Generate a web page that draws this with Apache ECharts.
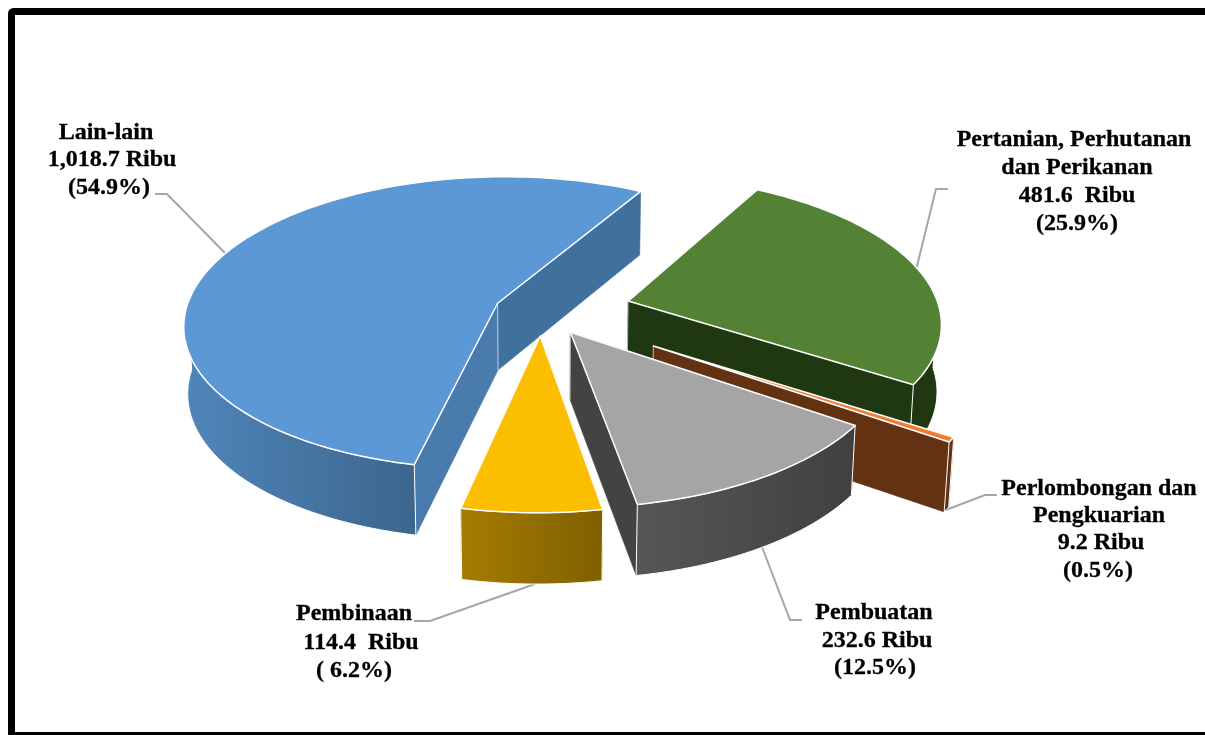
<!DOCTYPE html>
<html><head><meta charset="utf-8">
<style>html,body{margin:0;padding:0;background:#fff}#c{width:1205px;height:735px}</style>
<script src="https://cdn.jsdelivr.net/npm/echarts@6/dist/echarts.min.js"></script>
</head><body><div id="c"></div>
<script>
// Data, clockwise in pie order, also painted back to front
const categories = ['Lain-lain','Pertanian, Perhutanan dan Perikanan','Perlombongan dan Pengkuarian','Pembuatan','Pembinaan'];
const values = [1018.7, 481.6, 9.2, 232.6, 114.4];
const explode = [0.152, 0.288, 0.42, 0.17, 0.168];
const topColors = ['#5b98d5','#548235','#ed7d31','#a5a5a5','#fbbe00'];
const wallColors = ['#40709c','#203812','#633213','#434343','#7f6000'];
const entryWallColors = ['#4a7bad','#203812','#633213','#434343','#7f6000'];
const rimFrom = ['#4f86ba','#203812','#633213','#565656','#a67c00'];
const rimTo = ['#3c668c','#203812','#633213','#404040','#7f6000'];
const labelLines = [
 ['Lain-lain',106,133],['1,018.7 Ribu',112,160],['(54.9%)',109,188],
 ['Pertanian, Perhutanan',1074,140],['dan Perikanan',1077,168],['481.6  Ribu',1077,196],['(25.9%)',1077,224],
 ['Perlombongan dan',1099,489],['Pengkuarian',1099,516],['9.2 Ribu',1101,543],['(0.5%)',1098,571],
 ['Pembuatan',874,613],['232.6 Ribu',877,641],['(12.5%)',875,668],
 ['Pembinaan',354,614],['114.4  Ribu',361,643],['( 6.2%)',354,671]
];
const leaders = [
 [[155,194],[167,194],[225,253]],
 [[948,189],[936,189],[916,270]],
 [[997,495],[985,495],[943,511]],
 [[802,620],[790,620],[762,547]],
 [[414,621],[430,621],[535,584]]
];
const total = values.reduce((a,b)=>a+b,0);
const firstAngle = 29.5 - values[0]/total*360;

// Projection of the tilted pie (perspective, slight shear)
const X0=541.5,Y0=311,A=312,S=-2.5,B=145.5,K=0.135,M=0.011,D=67,K2=0.08;
function proj(u,v,z){
  const w=1-K*v+M*z;
  return [X0+(A*u+S*v)/w, Y0+B*v/w+z*D/(1-K2*v)];
}
const rad=a=>a*Math.PI/180;
function renderItem(params,api){
  const i=params.dataIndex;
  const val=api.value(0);
  let before=0; for(let j=0;j<i;j++) before+=values[j];
  const a0=firstAngle+before/total*360, a1=a0+val/total*360;
  const mid=rad((a0+a1)/2), e=explode[i];
  const cu=e*Math.sin(mid), cv=-e*Math.cos(mid);
  const rim=(a,z)=>proj(cu+Math.sin(rad(a)),cv-Math.cos(rad(a)),z);
  const apex=z=>proj(cu,cv,z);
  const arc=(s,t,z)=>{const n=Math.max(2,Math.ceil(Math.abs(t-s)/1.5));const p=[];for(let k=0;k<=n;k++)p.push(rim(s+(t-s)*k/n,z));return p;};
  const white={stroke:'#fff',lineWidth:1.5,lineJoin:'round'};
  const poly=(pts,fill,stroke)=>({type:'polygon',shape:{points:pts},silent:true,style:Object.assign({fill:fill},stroke===false?{stroke:fill,lineWidth:0.5}:white)});
  const kids=[];
  // radial walls
  kids.push(poly([apex(0),rim(a1,0),rim(a1,1),apex(1)],wallColors[i],false));
  kids.push(poly([apex(0),rim(a0,0),rim(a0,1),apex(1)],entryWallColors[i],false));
  kids.push({type:'polyline',shape:{points:[apex(0),apex(1)]},silent:true,style:{stroke:'#fff',lineWidth:0.8,opacity:.8,fill:null}});
  // front rim wall (the part of the arc that faces the viewer, 90..270 deg)
  const norm=a=>((a%360)+360)%360;
  const s0=norm(a0);
  let fs=Math.max(s0,90), fe=Math.min(s0+(a1-a0),270);
  if(s0+(a1-a0)>450){ fs=Math.max(s0,450); fe=Math.min(s0+(a1-a0),630); }
  if(fe>fs){
    const top=arc(fs,fe,0), bot=arc(fs,fe,1).reverse();
    kids.push({type:'polygon',shape:{points:top.concat(bot)},silent:true,style:{
      fill:new echarts.graphic.LinearGradient(0,0,1,0,[{offset:0,color:rimFrom[i]},{offset:1,color:rimTo[i]}]),
      stroke:'#fff',lineWidth:1}});
  }
  // top face
  const pts=[apex(0)].concat(arc(a0,a1,0));
  kids.push(poly(pts,topColors[i]));
  return {type:'group',children:kids};
}
const chart=echarts.init(document.getElementById('c'),null,{renderer:'canvas'});
const graphics=[
 {type:'rect',z:0,silent:true,shape:{x:11.5,y:11.5,width:1300,height:724,r:2},style:{fill:'#fff',stroke:'#000',lineWidth:7}}
];
leaders.forEach(p=>graphics.push({type:'polyline',z:1,silent:true,shape:{points:p},style:{stroke:'#a6a6a6',lineWidth:2,fill:null}}));
labelLines.forEach(l=>graphics.push({type:'text',z:5,silent:true,x:l[1],y:l[2],style:{text:l[0],fill:'#000',stroke:'#000',lineWidth:0.3,align:'center',verticalAlign:'middle',font:'bold 24px "Liberation Serif"'}}));
chart.setOption({
  animation:false,
  backgroundColor:'#fff',
  series:[{type:'custom',name:'Pie',coordinateSystem:'none',renderItem:renderItem,z:3,
    data:categories.map((c,i)=>({name:c,value:[values[i]]}))}],
  graphic:{elements:graphics}
});
</script></body></html>
